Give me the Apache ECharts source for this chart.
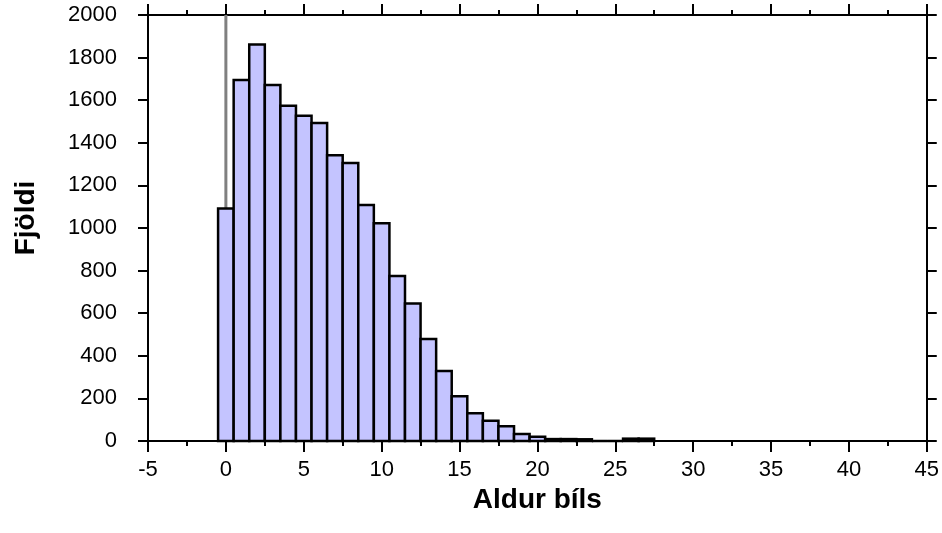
<!DOCTYPE html>
<html>
<head>
<meta charset="utf-8">
<script src="https://cdn.jsdelivr.net/npm/echarts@6/dist/echarts.min.js"></script>
<style>
  html, body { margin: 0; padding: 0; background: #fff; }
  #chart { width: 942px; height: 533px; }
</style>
</head>
<body>
<div id="chart"></div>
<script>
// age of car (years) and number of cars
var ages = [0, 1, 2, 3, 4, 5, 6, 7, 8, 9, 10, 11, 12, 13, 14, 15, 16, 17, 18, 19, 20, 21, 22, 23, 24, 25, 26, 27];
var counts = [1092, 1695, 1861, 1671, 1574, 1527, 1493, 1341, 1305, 1108, 1022, 775, 646, 479, 329, 210, 130, 95, 69, 33, 20, 9, 9, 8, 0, 0, 11, 11];
var xTicks = [-5, 0, 5, 10, 15, 20, 25, 30, 35, 40, 45];
var yTicks = [0, 200, 400, 600, 800, 1000, 1200, 1400, 1600, 1800, 2000];

var font = 'Liberation Sans, Arial, sans-serif';
var black = '#000';

var chart = echarts.init(document.getElementById('chart'), null, { renderer: 'canvas' });

var barData = ages.map(function (a, i) { return [a, counts[i]]; });

var xBase = {
  type: 'value',
  min: xTicks[0],
  max: xTicks[xTicks.length - 1],
  interval: 5,
  splitLine: { show: false },
  axisLine: { show: true, onZero: false, lineStyle: { color: black, width: 2 } },
  axisTick: { show: true, inside: false, length: 11, lineStyle: { color: black, width: 2 } },
  minorTick: { show: true, splitNumber: 2, length: 5, lineStyle: { color: black, width: 2 } }
};

var yBase = {
  type: 'value',
  min: yTicks[0],
  max: yTicks[yTicks.length - 1],
  interval: 200,
  splitLine: { show: false },
  axisLine: { show: true, onZero: false, lineStyle: { color: black, width: 2 } },
  axisTick: { show: true, inside: false, length: 10, lineStyle: { color: black, width: 2 } }
};

chart.setOption({
  animation: false,
  backgroundColor: '#fff',
  grid: { left: 148, right: 12, top: 15, bottom: 92 },
  xAxis: [
    Object.assign({}, xBase, {
      position: 'bottom',
      name: 'Aldur bíls',
      nameLocation: 'middle',
      nameGap: 37,
      nameTextStyle: { fontFamily: font, fontWeight: 'bold', fontSize: 28, color: black },
      axisLabel: { fontFamily: font, fontSize: 22, color: black, margin: 18 }
    }),
    Object.assign({}, xBase, {
      position: 'top',
      axisLabel: { show: false }
    })
  ],
  yAxis: [
    Object.assign({}, yBase, {
      position: 'left',
      name: 'Fjöldi',
      nameLocation: 'middle',
      nameGap: 108,
      nameTextStyle: { fontFamily: font, fontWeight: 'bold', fontSize: 28, color: black, padding: [0, 0, 0, 20] },
      axisLabel: {
        fontFamily: font, fontSize: 22, color: black, margin: 31,
        formatter: function (v) { return String(v); }
      }
    }),
    Object.assign({}, yBase, {
      position: 'right',
      axisLabel: { show: false }
    })
  ],
  series: [
    {
      // grey line at x = 0, behind the bars
      type: 'line',
      xAxisIndex: 0,
      yAxisIndex: 0,
      data: [[0, 0], [0, 2000]],
      symbol: 'none',
      lineStyle: { color: '#808080', width: 3 },
      z: 1,
      silent: true
    },
    {
      type: 'custom',
      xAxisIndex: 0,
      yAxisIndex: 0,
      data: barData,
      z: 2,
      renderItem: function (params, api) {
        var x = api.value(0);
        var y = api.value(1);
        var p0 = api.coord([x - 0.5, y]);
        var p1 = api.coord([x + 0.5, 0]);
        return {
          type: 'rect',
          shape: { x: p0[0], y: p0[1], width: p1[0] - p0[0], height: p1[1] - p0[1] },
          style: { fill: '#c4c4ff', stroke: black, lineWidth: 2.5 }
        };
      }
    }
  ]
});
</script>
</body>
</html>
